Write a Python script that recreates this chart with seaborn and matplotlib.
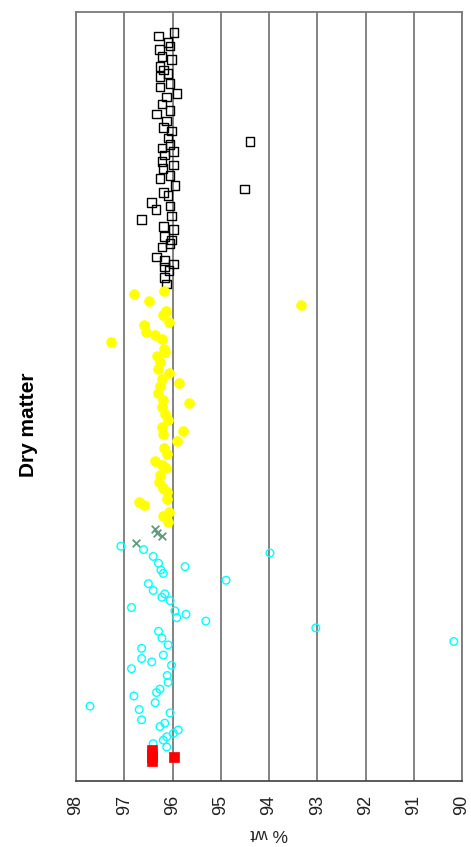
import numpy as np
import pandas as pd
import matplotlib
matplotlib.use("Agg")
import matplotlib.pyplot as plt
import seaborn as sns

# ---- data: sample number and dry matter (% wt) per group ----
red_sample = [6, 7, 8, 9, 7]
red_value = [96.42, 96.42, 96.42, 96.42, 95.97]

cyan_sample = [69, 68, 67, 66, 64, 63, 62, 61, 59, 58, 56, 55, 54, 53, 51, 50, 49, 48,
               47, 45, 44, 42, 41, 40, 39, 37, 36, 35, 34, 33, 31, 29, 27, 26, 25, 23,
               22, 21, 20, 18, 17, 16, 15, 14, 13, 12, 11, 10]
cyan_value = [97.07, 96.60, 93.98, 96.40, 96.29, 95.74, 96.24, 96.19, 94.89, 96.50, 96.40,
              96.16, 96.22, 96.05, 96.85, 95.95, 95.72, 95.91, 95.31, 93.03, 96.29, 96.22,
              90.17, 96.09, 96.64, 96.19, 96.64, 96.43, 96.02, 96.85, 96.11, 96.09, 96.26,
              96.33, 96.80, 96.36, 97.71, 96.69, 96.05, 96.64, 96.16, 96.26, 95.88, 95.98,
              96.12, 96.19, 96.40, 96.12]

green_sample = [70, 72, 73, 74]
green_value = [96.76, 96.22, 96.33, 96.36]

yellow_sample = [144, 143, 141, 140, 138, 137, 135, 134, 132, 131, 130, 129, 127, 126, 125,
                 123, 121, 120, 118, 117, 116, 114, 112, 111, 110, 108, 106, 104, 103, 102,
                 100, 98, 96, 94, 93, 92, 90, 88, 86, 85, 83, 82, 81, 79, 78, 76]
yellow_value = [96.18, 96.80, 96.48, 93.34, 96.13, 96.19, 96.07, 96.59, 96.55, 96.36, 96.22,
                97.27, 96.18, 96.16, 96.33, 96.26, 96.31, 96.07, 96.22, 95.86, 96.26, 96.31,
                96.19, 95.66, 96.22, 96.16, 96.09, 96.22, 95.79, 96.19, 95.90, 96.18, 96.12,
                96.36, 96.22, 96.13, 96.26, 96.29, 96.19, 96.11, 96.12, 96.69, 96.59, 96.07,
                96.20, 96.09]

black_sample = [220, 219, 217, 216, 215, 213, 212, 210, 209, 208, 207, 205, 204, 202, 201,
                199, 197, 196, 194, 192, 191, 189, 188, 187, 186, 185, 184, 182, 181, 180,
                178, 177, 175, 174, 173, 172, 170, 169, 168, 166, 165, 163, 162, 160, 159,
                158, 157, 154, 153, 152, 151, 150, 148, 146]
black_value = [95.97, 96.29, 96.09, 96.05, 96.27, 96.22, 96.02, 96.26, 96.19, 96.09, 96.26,
               96.05, 96.26, 95.91, 96.12, 96.22, 96.05, 96.33, 96.12, 96.19, 96.02, 96.09,
               94.39, 96.05, 96.22, 95.98, 96.16, 96.22, 95.98, 96.20, 96.05, 96.26, 95.95,
               94.51, 96.19, 96.09, 96.43, 96.05, 96.34, 96.02, 96.64, 96.19, 95.98, 96.16,
               96.02, 96.05, 96.22, 96.33, 96.16, 95.98, 96.16, 96.07, 96.16, 96.12]

value_ticks = [98, 97, 96, 95, 94, 93, 92, 91, 90]

sns.set_style("white")
plt.rcParams["font.family"] = ["Liberation Sans", "DejaVu Sans"]

fig = plt.figure(figsize=(4.71, 8.47), dpi=100)
ax = fig.add_axes([76 / 471, 1 - 781 / 847, (462 - 76) / 471, (781 - 12) / 847])

# rotated layout: value runs horizontally (98 -> 90), sample number runs upward
series = [
    (black_sample, black_value, dict(marker="s", s=38, color="black", facecolor="none",
                                     edgecolor="black", linewidth=1.0)),
    (yellow_sample, yellow_value, dict(marker="o", s=50, color="#FFFF00",
                                       edgecolor="#FFFF00", linewidth=0.5)),
    (green_sample, green_value, dict(marker="x", s=30, color="#5F9C7C", linewidth=1.3)),
    (cyan_sample, cyan_value, dict(marker="o", s=30, color="#00FFFF", facecolor="none",
                                   edgecolor="#00FFFF", linewidth=1.0)),
    (red_sample, red_value, dict(marker="s", s=44, color="#FF0000",
                                 edgecolor="#FF0000", linewidth=0.5)),
]
for samp, vals, kw in series:
    df = pd.DataFrame({"sample": samp, "value": vals})
    sns.scatterplot(data=df, x="value", y="sample", ax=ax, legend=False, zorder=3, **kw)

ax.set_xlim(98, 90)
ax.set_ylim(0, 226)
ax.set_xticks(value_ticks)
ax.set_xticklabels([str(v) for v in value_ticks])
ax.set_yticks([])
ax.set_ylabel("")

ax.grid(axis="x", color="#7a7a7a", linewidth=1.3)
ax.grid(axis="y", visible=False)
for side in ["left", "right", "top"]:
    ax.spines[side].set_color("#7a7a7a")
    ax.spines[side].set_linewidth(1.3)
ax.spines["bottom"].set_color("#404040")
ax.spines["bottom"].set_linewidth(1.2)

ax.tick_params(axis="x", direction="out", length=3.8, width=1.0, color="#404040",
               pad=6.0, labelsize=13, labelrotation=90, labelcolor="#222222")
ax.tick_params(axis="y", left=False, right=False)

ax.set_xlabel("% wt", fontsize=12.5, rotation=180, labelpad=8, color="#222222")

fig.text(28 / 471, 1 - 425 / 847, "Dry matter", rotation=90, ha="center", va="center",
         fontsize=15, fontweight="bold", color="black")

fig.savefig("out.png", dpi=100)
